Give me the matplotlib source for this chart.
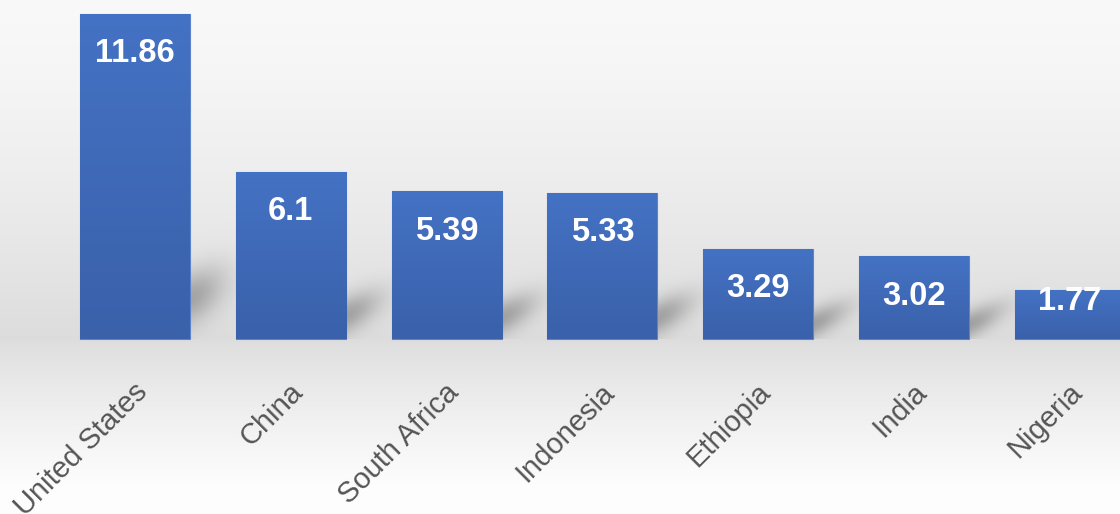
import numpy as np
import matplotlib
matplotlib.use("Agg")
import matplotlib.pyplot as plt
from matplotlib.colors import LinearSegmentedColormap

countries = ["United States", "China", "South Africa", "Indonesia", "Ethiopia", "India", "Nigeria"]
values = [11.86, 6.1, 5.39, 5.33, 3.29, 3.02, 1.77]
value_labels = ["11.86", "6.1", "5.39", "5.33", "3.29", "3.02", "1.77"]

W, H = 1120, 514
fig = plt.figure(figsize=(W / 100, H / 100), dpi=100)
ax = fig.add_axes([0, 0, 1, 1])

# pixel layout
x0_px, step_px = 135.0, 155.8
base_px, scale_px = 339.0, 27.42
xlim = (-x0_px / step_px, (W - x0_px) / step_px)
ylim = (-(H - base_px) / scale_px, base_px / scale_px)
ax.set_xlim(*xlim)
ax.set_ylim(*ylim)
ax.axis("off")

bar_w = 110 / step_px
xs = np.arange(len(countries))

# background with gradient and floor shadows
yy, xx = np.mgrid[0:H, 0:W].astype(float)
top_c, mid_c, bot_c = 0.975, 0.865, 0.995
bg = np.where(yy <= base_px,
              top_c + (mid_c - top_c) * (yy / base_px) ** 1.4,
              mid_c + (bot_c - mid_c) * np.clip((yy - base_px) / 150.0, 0, 1) ** 0.8)
shade = np.zeros_like(bg)
for i, v in enumerate(values):
    h = v * scale_px
    xr = x0_px + i * step_px + 55
    u = xx - xr
    vv = base_px - yy
    uc = np.clip(u, 0, None)
    vc = 6 + 0.11 * h + 0.45 * uc
    sv = 10 + 0.05 * h
    amp = 0.24
    s = amp * np.exp(-((vv - vc) / sv) ** 2) * np.exp(-(uc / 34.0) ** 2)
    s *= (u > 0) * (vv > 0)
    shade = np.maximum(shade, s)
bg = bg - shade
img = np.dstack([bg, bg, bg])
ax.imshow(img, extent=(xlim[0], xlim[1], ylim[0], ylim[1]), origin="upper",
          aspect="auto", zorder=0, interpolation="bilinear")

# bars with vertical gradient
bars = ax.bar(xs, values, width=bar_w, color="#416fbf", edgecolor="#5b84cc",
              linewidth=0.8, zorder=2)
cmap = LinearSegmentedColormap.from_list("g", ["#3a61aa", "#4472c4"])
grad = np.linspace(0, 1, 256).reshape(-1, 1)
for b in bars:
    x, y = b.get_x(), b.get_y()
    w, hgt = b.get_width(), b.get_height()
    im = ax.imshow(grad, extent=(x, x + w, y, y + hgt), origin="lower", cmap=cmap,
                   aspect="auto", zorder=3)
    im.set_clip_path(b)

fam = ["Liberation Sans", "DejaVu Sans"]
off = 40 / scale_px
min_y = 38 / scale_px
for x, v, lab in zip(xs, values, value_labels):
    ax.text(x, max(v - off, min_y), lab, ha="center", va="center", color="white",
            fontsize=23.5, fontweight="bold", family=fam, zorder=5)

ty = (base_px - 388) / scale_px
for x, c in zip(xs, countries):
    ax.text(x + 8 / step_px, ty, c, rotation=45, rotation_mode="anchor",
            ha="right", va="center", color="#555555", fontsize=21, family=fam, zorder=5)

fig.savefig("out.png", dpi=100)
